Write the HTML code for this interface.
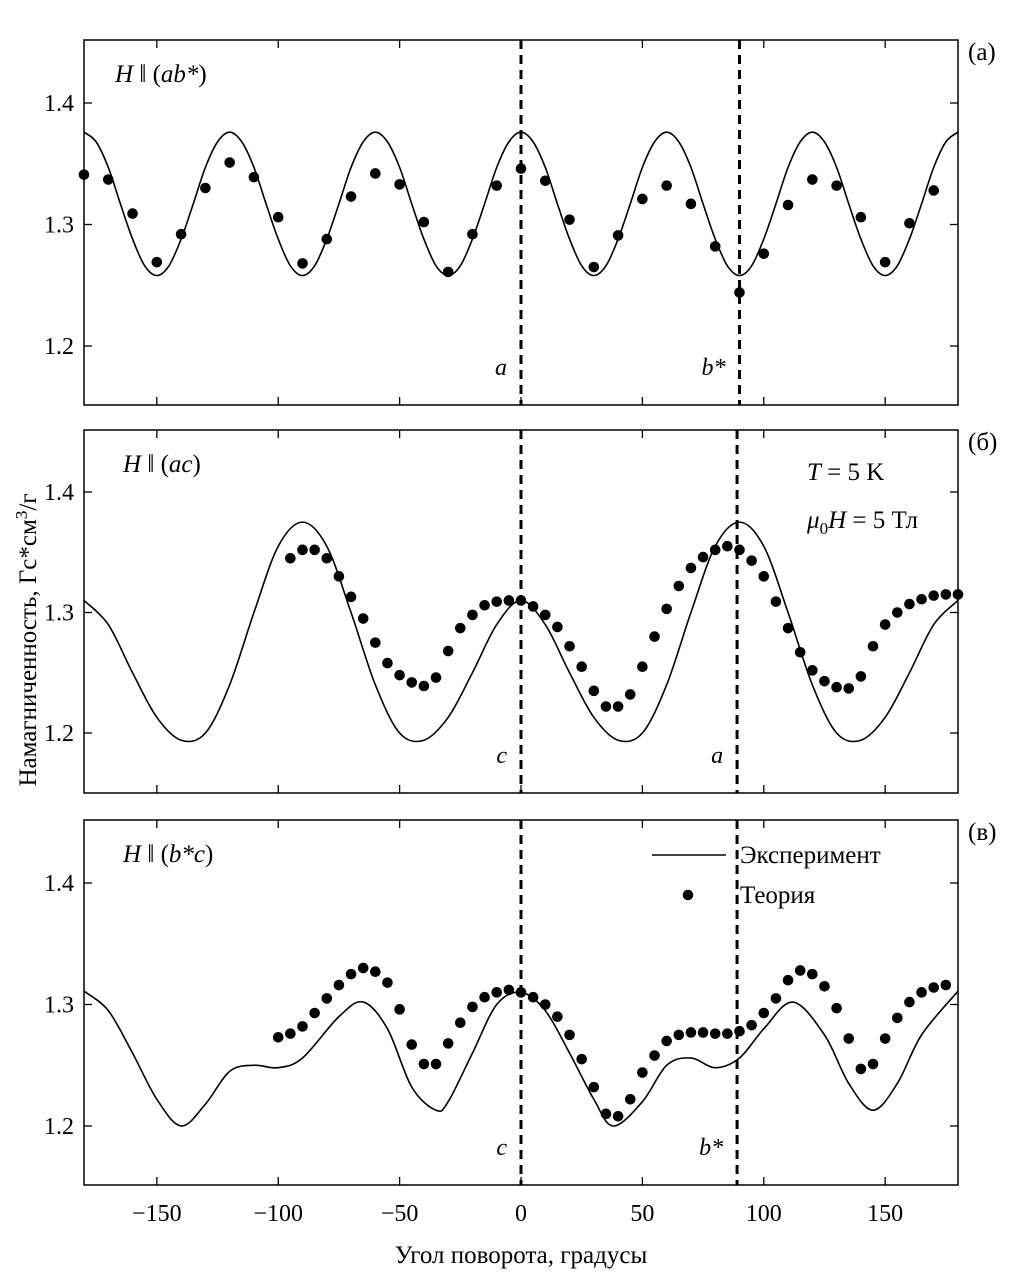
<!DOCTYPE html>
<html><head><meta charset="utf-8"><style>
body{margin:0;background:#fff}
svg{display:block;font-family:"Liberation Serif","DejaVu Serif",serif}
</style></head><body>
<svg id="chart" width="1028" height="1277" viewBox="0 0 1028 1277">
<text x="0" y="0" transform="translate(36,640) rotate(-90)" text-anchor="middle" font-size="25">Намагниченность, Гс*см<tspan dy="-9" font-size="17">3</tspan><tspan dy="9">/г</tspan></text>
<text x="521" y="1263" text-anchor="middle" font-size="25">Угол поворота, градусы</text>
</svg>
<script>
// ---- data ----
const xTicks=[-150,-100,-50,0,50,100,150];
const xTickLabels=["\u2212150","\u2212100","\u221250","0","50","100","150"];
const yTicks=[1.2,1.3,1.4];
const yTickLabels=["1.2","1.3","1.4"];
// panel a
const aExpX=[-180,-175,-170,-165,-160,-155,-150,-145,-140,-135,-130,-125,-120,-115,-110,-105,-100,-95,-90,-85,-80,-75,-70,-65,-60,-55,-50,-45,-40,-35,-30,-25,-20,-15,-10,-5,0,5,10,15,20,25,30,35,40,45,50,55,60,65,70,75,80,85,90,95,100,105,110,115,120,125,130,135,140,145,150,155,160,165,170,175,180];
const aExpY=[1.376,1.368,1.347,1.317,1.288,1.266,1.258,1.266,1.288,1.317,1.347,1.368,1.376,1.368,1.347,1.317,1.288,1.266,1.258,1.266,1.288,1.317,1.347,1.368,1.376,1.368,1.347,1.317,1.288,1.266,1.258,1.266,1.288,1.317,1.347,1.368,1.376,1.368,1.347,1.317,1.288,1.266,1.258,1.266,1.288,1.317,1.347,1.368,1.376,1.368,1.347,1.317,1.288,1.266,1.258,1.266,1.288,1.317,1.347,1.368,1.376,1.368,1.347,1.317,1.288,1.266,1.258,1.266,1.288,1.317,1.347,1.368,1.376];
const aThX=[-180,-170,-160,-150,-140,-130,-120,-110,-100,-90,-80,-70,-60,-50,-40,-30,-20,-10,0,10,20,30,40,50,60,70,80,90,100,110,120,130,140,150,160,170];
const aThY=[1.341,1.337,1.309,1.269,1.292,1.330,1.351,1.339,1.306,1.268,1.288,1.323,1.342,1.333,1.302,1.261,1.292,1.332,1.346,1.336,1.304,1.265,1.291,1.321,1.332,1.317,1.282,1.244,1.276,1.316,1.337,1.332,1.306,1.269,1.301,1.328];
// panel b
const bExpX=[-180,-170,-160,-150,-140,-130,-120,-110,-100,-90,-80,-70,-60,-50,-40,-30,-20,-10,0,10,20,30,40,50,60,70,80,90,100,110,120,130,140,150,160,170,180];
const bExpY=[1.310,1.290,1.250,1.213,1.194,1.200,1.240,1.300,1.355,1.375,1.355,1.300,1.240,1.200,1.194,1.213,1.250,1.290,1.310,1.290,1.250,1.213,1.194,1.200,1.240,1.300,1.355,1.375,1.355,1.300,1.240,1.200,1.194,1.213,1.250,1.290,1.310];
const bThX=[-95,-90,-85,-80,-75,-70,-65,-60,-55,-50,-45,-40,-35,-30,-25,-20,-15,-10,-5,0,5,10,15,20,25,30,35,40,45,50,55,60,65,70,75,80,85,90,95,100,105,110,115,120,125,130,135,140,145,150,155,160,165,170,175,180];
const bThY=[1.345,1.352,1.352,1.345,1.330,1.313,1.295,1.275,1.258,1.248,1.242,1.239,1.246,1.268,1.287,1.298,1.306,1.309,1.310,1.310,1.305,1.298,1.288,1.272,1.255,1.235,1.222,1.222,1.232,1.255,1.280,1.303,1.322,1.337,1.346,1.352,1.355,1.352,1.343,1.330,1.309,1.287,1.267,1.252,1.243,1.238,1.237,1.247,1.272,1.290,1.300,1.307,1.311,1.314,1.315,1.315];
// panel c
const cExpX=[-180,-170,-160,-150,-140,-130,-120,-110,-100,-90,-75,-65,-55,-45,-35,-30,-20,-10,0,10,20,30,38,50,60,70,80,90,100,112,125,135,145,155,165,180];
const cExpY=[1.311,1.295,1.260,1.222,1.200,1.218,1.245,1.250,1.248,1.256,1.290,1.302,1.280,1.232,1.213,1.220,1.260,1.300,1.310,1.295,1.260,1.222,1.200,1.220,1.250,1.256,1.248,1.256,1.280,1.302,1.275,1.235,1.213,1.235,1.275,1.311];
const cThX=[-100,-95,-90,-85,-80,-75,-70,-65,-60,-55,-50,-45,-40,-35,-30,-25,-20,-15,-10,-5,0,5,10,15,20,25,30,35,40,45,50,55,60,65,70,75,80,85,90,95,100,105,110,115,120,125,130,135,140,145,150,155,160,165,170,175];
const cThY=[1.273,1.276,1.282,1.293,1.305,1.316,1.325,1.330,1.327,1.318,1.296,1.267,1.251,1.251,1.268,1.285,1.298,1.306,1.310,1.312,1.310,1.306,1.300,1.290,1.275,1.255,1.232,1.210,1.208,1.222,1.244,1.258,1.270,1.275,1.277,1.277,1.276,1.276,1.278,1.283,1.293,1.305,1.320,1.328,1.325,1.315,1.297,1.272,1.247,1.251,1.272,1.289,1.302,1.310,1.314,1.316];

const NS="http://www.w3.org/2000/svg";
const svg=document.getElementById('chart');
const X0=84,X1=958;
function sx(v){return X0+(v+180)/360*(X1-X0);}
function mk(tag,attrs,parent){const e=document.createElementNS(NS,tag);for(const k in attrs)e.setAttribute(k,attrs[k]);(parent||svg).appendChild(e);return e;}
function smooth(pts){let d="M"+pts[0][0]+","+pts[0][1];for(let i=0;i<pts.length-1;i++){const p0=pts[Math.max(0,i-1)],p1=pts[i],p2=pts[i+1],p3=pts[Math.min(pts.length-1,i+2)];const c1=[p1[0]+(p2[0]-p0[0])/6,p1[1]+(p2[1]-p0[1])/6],c2=[p2[0]-(p3[0]-p1[0])/6,p2[1]-(p3[1]-p1[1])/6];d+=" C"+c1[0]+","+c1[1]+" "+c2[0]+","+c2[1]+" "+p2[0]+","+p2[1];}return d;}

const panels=[
 {key:'a',top:40,bot:405,y14:103,y12:346,expX:aExpX,expY:aExpY,thX:aThX,thY:aThY,dash:[0,90],dashLbl:['a','b*'],title:'(ab*)',corner:'(а)'},
 {key:'b',top:430,bot:793,y14:492,y12:733,expX:bExpX,expY:bExpY,thX:bThX,thY:bThY,dash:[0,89],dashLbl:['c','a'],title:'(ac)',corner:'(б)'},
 {key:'c',top:820,bot:1185,y14:883,y12:1126,expX:cExpX,expY:cExpY,thX:cThX,thY:cThY,dash:[0,89],dashLbl:['c','b*'],title:'(b*c)',corner:'(в)'}
];
panels.forEach((p,pi)=>{
 const g=mk('g',{});
 
 
 const sy=v=>p.y12+(v-1.2)/0.2*(p.y14-p.y12);
 const clipId='clip'+pi;
 const cp=mk('clipPath',{id:clipId},g);mk('rect',{x:X0,y:p.top,width:X1-X0,height:p.bot-p.top},cp);
 const frame=mk('rect',{x:X0,y:p.top,width:X1-X0,height:p.bot-p.top,fill:'none',stroke:'#000','stroke-width':1.5},g);
 
 
 xTicks.forEach((t,i)=>{
  mk('line',{x1:sx(t),x2:sx(t),y1:p.bot,y2:p.bot-8,stroke:'#000','stroke-width':1.3},g);
  mk('line',{x1:sx(t),x2:sx(t),y1:p.top,y2:p.top+8,stroke:'#000','stroke-width':1.3},g);
  if(pi===2){const tl=mk('text',{x:sx(t),y:1221,'text-anchor':'middle','font-size':24},g);tl.textContent=xTickLabels[i];
   
   }
 });
 yTicks.forEach((t,i)=>{
  mk('line',{x1:X0,x2:X0+8,y1:sy(t),y2:sy(t),stroke:'#000','stroke-width':1.3},g);
  mk('line',{x1:X1,x2:X1-8,y1:sy(t),y2:sy(t),stroke:'#000','stroke-width':1.3},g);
  const tl=mk('text',{x:74,y:sy(t)+8,'text-anchor':'end','font-size':24},g);tl.textContent=yTickLabels[i];
  
  
 });
 p.dash.forEach((d,i)=>{
  const l=mk('line',{x1:sx(d),x2:sx(d),y1:p.top,y2:p.bot,stroke:'#000','stroke-width':3,'stroke-dasharray':'9,6'},g);
  
  
  const t=mk('text',{x:sx(d)-14,y:p.bot-30,'text-anchor':'end','font-size':24,'font-style':'italic'},g);t.textContent=p.dashLbl[i];
  
  
 });
 const pts=p.expX.map((x,i)=>[sx(x),sy(p.expY[i])]);
 const path=mk('path',{d:smooth(pts),fill:'none',stroke:'#000','stroke-width':1.6,'clip-path':'url(#'+clipId+')'},g);
 
 
 p.thX.forEach((x,i)=>{
  const c=mk('circle',{cx:sx(x),cy:sy(p.thY[i]),r:5.3,fill:'#000'},g);
  
  
 });
 const tt=mk('text',{x:pi===0?115:123,y:p.top+42,'font-size':25},g);
 tt.innerHTML='<tspan font-style="italic">H</tspan> ‖ (<tspan font-style="italic">'+p.title.slice(1,-1)+'</tspan>)';
 
 
 const cn=mk('text',{x:968,y:p.top+20,'font-size':25},g);cn.textContent=p.corner;
 
 
});
// annotations
const ann=mk('text',{x:807,y:480,'font-size':25});
ann.innerHTML='<tspan font-style="italic">T</tspan> = 5 K';


const ann2=mk('text',{x:807,y:528,'font-size':25});
ann2.innerHTML='<tspan font-style="italic">μ</tspan><tspan font-size="17" dy="6">0</tspan><tspan dy="-6" font-style="italic">H</tspan> = 5 Тл';


// legend
const lg=mk('g',{});


mk('line',{x1:652,x2:726,y1:855,y2:855,stroke:'#000','stroke-width':1.6},lg);
const l1=mk('text',{x:740,y:863,'font-size':25},lg);l1.textContent='Эксперимент';


mk('circle',{cx:688,cy:895,r:5.3,fill:'#000'},lg);
const l2=mk('text',{x:740,y:903,'font-size':25},lg);l2.textContent='Теория';


</script>
</body></html>
